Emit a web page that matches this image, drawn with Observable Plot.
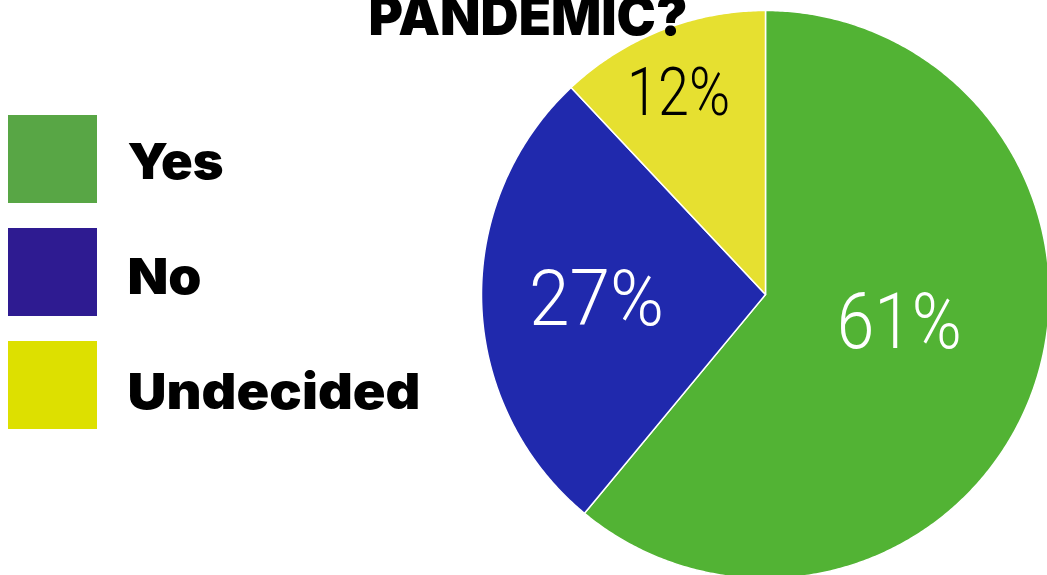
<!DOCTYPE html>
<html><head><meta charset="utf-8">
<script src="https://cdn.jsdelivr.net/npm/d3@7"></script>
<script src="https://cdn.jsdelivr.net/npm/@observablehq/plot@0.6"></script>
<style>
body{margin:0;background:#fff;overflow:hidden}
#chart{width:1047px;height:575px}
</style>
</head><body><div id="chart"></div>
<script>
// ---- data ----
const categories = ["Yes", "No", "Undecided"];
const shares = [61, 27, 12];
const valueLabels = ["61%", "27%", "12%"];
const titleText = "PANDEMIC?";

// ---- layout / style ----
const W = 1047, H = 575;
const cx = 765, cy = 294, R = 284;
const sliceColors = ["#52b334", "#2029ad", "#e6e030"];
const legendColors = ["#58a645", "#2e1b91", "#dde000"];
const labelColors = ["#ffffff", "#ffffff", "#000000"];
const labelRadius = [0.48, 0.595, 0.78];
const labelAngleShift = [-8.8, 0.8, -1.5];
const labelSizes = [78, 78, 66];
const labelWidths = [125, 135, 103];
const legendWidths = [96, 74, 293];
const heavy = "Inter, Lato, 'DejaVu Sans', sans-serif";
const light = "Roboto, 'Noto Sans', sans-serif";

const pie = d3.pie().sort(null).value(d => d)(shares);

// slice polygons (GeoJSON in pixel space, drawn through Plot's x/y scales)
const sliceFeatures = pie.map((a, i) => {
  const n = Math.max(2, Math.ceil((a.endAngle - a.startAngle) / (Math.PI / 360)));
  const ring = [[cx, cy]];
  for (let k = 0; k <= n; k++) {
    const t = a.startAngle + (a.endAngle - a.startAngle) * k / n;
    ring.push([cx + R * Math.sin(t), cy - R * Math.cos(t)]);
  }
  ring.push([cx, cy]);
  return {type: "Feature", properties: {key: categories[i]}, geometry: {type: "Polygon", coordinates: [ring]}};
});

const labelData = pie.map((a, i) => {
  const t = (a.startAngle + a.endAngle) / 2 + labelAngleShift[i] * Math.PI / 180;
  const r = R * labelRadius[i];
  return {label: valueLabels[i], i, px: cx + r * Math.sin(t), py: cy - r * Math.cos(t)};
});

const legendData = categories.map((c, i) => ({
  key: c, i,
  x1: 8, x2: 97, y1: 115 + i * 113, y2: 115 + i * 113 + 88,
  tx: 127, ty: 178 + i * 115
}));

const marks = [];
marks.push(Plot.geo(sliceFeatures, {fill: d => d.properties.key, stroke: "white", strokeWidth: 1.5, strokeLinejoin: "round"}));
const labelStart = marks.length;
labelData.forEach(d => marks.push(Plot.text([d], {
  x: "px", y: "py", text: "label", fill: labelColors[d.i],
  fontSize: labelSizes[d.i], fontFamily: light, fontWeight: 300,
  textAnchor: "middle", lineAnchor: "middle", dy: 3
})));
legendData.forEach(d => marks.push(Plot.rect([d], {x1: "x1", x2: "x2", y1: "y1", y2: "y2", fill: legendColors[d.i]})));
const legendTextIdx = marks.length;
marks.push(Plot.text(legendData, {
  x: "tx", y: "ty", text: "key", fill: "#000", fontSize: 50, fontFamily: heavy, fontWeight: 900,
  textAnchor: "start", lineAnchor: "bottom"
}));
const titleIdx = marks.length;
marks.push(Plot.text([titleText], {
  x: () => 368, y: () => 34, text: d => d, fill: "#000", fontSize: 54, fontFamily: heavy, fontWeight: 900,
  textAnchor: "start", lineAnchor: "bottom"
}));

const plot = Plot.plot({
  width: W, height: H, margin: 0,
  x: {type: "identity", axis: null},
  y: {type: "identity", axis: null},
  color: {domain: categories, range: sliceColors},
  style: {background: "#fff"},
  marks
});

document.getElementById("chart").appendChild(plot);

const groups = plot.querySelectorAll(":scope > g");
const fit = (g, widths) => g.querySelectorAll("text").forEach((t, i) => {
  t.setAttribute("textLength", widths[i]);
  t.setAttribute("lengthAdjust", "spacingAndGlyphs");
});
labelData.forEach(d => fit(groups[labelStart + d.i], [labelWidths[d.i]]));
fit(groups[legendTextIdx], legendWidths);
groups[legendTextIdx].querySelectorAll("text").forEach(t => t.setAttribute("dy", "0"));
fit(groups[titleIdx], [319]);
groups[titleIdx].querySelectorAll("text").forEach(t => t.setAttribute("dy", "0"));
</script>
</body></html>
